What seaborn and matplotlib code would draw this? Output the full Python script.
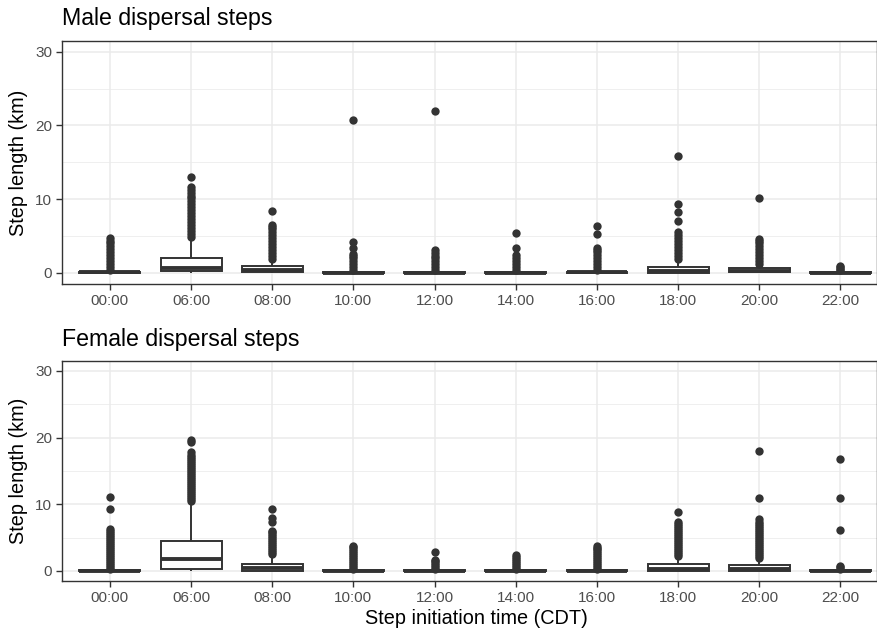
import matplotlib
matplotlib.use("Agg")
import matplotlib.pyplot as plt
import seaborn as sns
import pandas as pd

# ---------------- data ----------------
times = ["00:00", "06:00", "08:00", "10:00", "12:00",
         "14:00", "16:00", "18:00", "20:00", "22:00"]

# Male box statistics (km)
male_whislo = [0.0, 0.0, 0.0, 0.0, 0.0, 0.0, 0.0, 0.0, 0.0, 0.0]
male_q1 = [0.02, 0.25, 0.08, 0.01, 0.01, 0.01, 0.02, 0.05, 0.08, 0.01]
male_med = [0.06, 0.72, 0.40, 0.04, 0.04, 0.04, 0.07, 0.22, 0.28, 0.04]
male_q3 = [0.15, 2.07, 0.95, 0.12, 0.12, 0.10, 0.16, 0.85, 0.63, 0.10]
male_whishi = [0.35, 4.70, 1.75, 0.30, 0.30, 0.25, 0.38, 1.70, 1.10, 0.25]

# Male outliers (km)
male_outliers = [
    [0.4, 0.8, 1.2, 1.6, 2.0, 2.4, 2.8, 3.2, 3.6, 4.0, 4.4, 4.7],
    [4.9, 5.3, 5.7, 6.1, 6.5, 6.9, 7.3, 7.7, 8.1, 8.5, 8.9, 9.3, 9.7,
     10.1, 10.5, 10.9, 11.3, 11.6, 13.0],
    [1.9, 2.3, 2.7, 3.1, 3.5, 3.9, 4.3, 4.7, 5.1, 5.5, 5.9, 6.2, 6.5, 8.4],
    [0.4, 0.8, 1.2, 1.6, 2.0, 2.3, 2.6, 3.4, 4.15, 20.7],
    [0.4, 0.8, 1.2, 1.6, 2.0, 2.3, 2.7, 3.1, 22.0],
    [0.4, 0.8, 1.2, 1.6, 2.0, 2.4, 3.4, 5.4],
    [0.4, 0.8, 1.2, 1.6, 2.0, 2.4, 2.8, 3.1, 3.4, 5.3, 6.4],
    [1.9, 2.3, 2.7, 3.1, 3.5, 3.9, 4.3, 4.7, 5.1, 5.5, 7.1, 8.2, 9.3, 15.8],
    [1.2, 1.6, 2.0, 2.4, 2.8, 3.2, 3.6, 4.0, 4.3, 4.6, 10.2],
    [0.35, 0.6, 0.85, 1.0],
]

# Female box statistics (km)
female_whislo = [0.0, 0.0, 0.0, 0.0, 0.0, 0.0, 0.0, 0.0, 0.0, 0.0]
female_q1 = [0.01, 0.30, 0.05, 0.01, 0.01, 0.01, 0.02, 0.04, 0.05, 0.01]
female_med = [0.04, 1.75, 0.40, 0.04, 0.03, 0.03, 0.06, 0.30, 0.30, 0.03]
female_q3 = [0.12, 4.50, 1.10, 0.14, 0.08, 0.08, 0.15, 1.00, 0.90, 0.08]
female_whishi = [0.28, 10.2, 2.20, 0.33, 0.20, 0.20, 0.36, 2.00, 1.80, 0.20]

# Female outliers (km)
female_outliers = [
    [0.3, 0.6, 0.9, 1.2, 1.5, 1.8, 2.1, 2.4, 2.7, 3.0, 3.3, 3.6, 3.9,
     4.2, 4.5, 4.8, 5.1, 5.4, 5.7, 6.0, 6.3, 9.3, 11.1],
    [10.5, 10.8, 11.1, 11.4, 11.7, 12.0, 12.3, 12.6, 12.9, 13.2, 13.5,
     13.8, 14.1, 14.4, 14.7, 15.0, 15.3, 15.6, 15.9, 16.2, 16.5, 16.8,
     17.1, 17.4, 17.8, 19.3, 19.6],
    [2.5, 2.8, 3.1, 3.4, 3.7, 4.0, 4.3, 4.6, 4.9, 5.2, 5.5, 5.8, 6.0,
     7.3, 7.9, 9.3],
    [0.3, 0.6, 0.9, 1.2, 1.5, 1.8, 2.1, 2.4, 2.7, 3.0, 3.3, 3.6, 3.8],
    [0.3, 0.6, 0.9, 1.2, 1.5, 1.7, 2.9],
    [0.3, 0.6, 0.9, 1.2, 1.5, 1.8, 2.1, 2.4],
    [0.3, 0.6, 0.9, 1.2, 1.5, 1.8, 2.1, 2.4, 2.7, 3.0, 3.3, 3.5, 3.7],
    [2.3, 2.6, 2.9, 3.2, 3.5, 3.8, 4.1, 4.4, 4.7, 5.0, 5.3, 5.6, 5.9,
     6.2, 6.5, 6.8, 7.1, 7.4, 8.9],
    [2.0, 2.3, 2.6, 2.9, 3.2, 3.5, 3.8, 4.1, 4.4, 4.7, 5.0, 5.3, 5.6,
     5.9, 6.2, 6.5, 6.8, 7.1, 7.4, 7.8, 11.0, 18.0],
    [0.3, 0.55, 0.8, 6.2, 11.0, 16.8],
]

panel_titles = ["Male dispersal steps", "Female dispersal steps"]
y_label = "Step length (km)"
x_label = "Step initiation time (CDT)"


def box_frame(whislo, q1, med, q3, whishi):
    rows = []
    for i, t in enumerate(times):
        for v in (whislo[i], q1[i], med[i], q3[i], whishi[i]):
            rows.append({"time": t, "value": v})
    return pd.DataFrame(rows)


def outlier_frame(outliers):
    rows = []
    for t, vals in zip(times, outliers):
        for v in vals:
            rows.append({"time": t, "value": v})
    return pd.DataFrame(rows)


# ---------------- style ----------------
sns.set_theme(style="white")
plt.rcParams["font.family"] = ["Liberation Sans", "DejaVu Sans"]

DARK = "#333333"
GRID = "#EBEBEB"

fig = plt.figure(figsize=(8.78, 6.31), dpi=100)
W, H = 878.0, 631.0
ax_top = fig.add_axes([62 / W, 1 - 284 / H, (877 - 62) / W, (284 - 40.7) / H])
ax_bot = fig.add_axes([62 / W, 1 - 581 / H, (877 - 62) / W, (581 - 361) / H])

panels = [
    (ax_top, box_frame(male_whislo, male_q1, male_med, male_q3, male_whishi),
     outlier_frame(male_outliers), panel_titles[0], False),
    (ax_bot, box_frame(female_whislo, female_q1, female_med, female_q3, female_whishi),
     outlier_frame(female_outliers), panel_titles[1], True),
]

for ax, bdf, odf, title, show_xlabel in panels:
    sns.boxplot(data=bdf, x="time", y="value", order=times, ax=ax,
                whis=(0, 100), width=0.75, color="white", saturation=1,
                linecolor=DARK, linewidth=1.4, showfliers=False,
                medianprops={"linewidth": 2.8},
                capprops={"visible": False})
    sns.stripplot(data=odf, x="time", y="value", order=times, ax=ax,
                  jitter=False, color=DARK, size=6.0, linewidth=0, zorder=4)

    ax.set_xlim(-0.59, 9.45)
    ax.set_ylim(-1.5, 31.5)
    ax.set_yticks([0, 10, 20, 30])
    ax.set_yticks([5, 15, 25], minor=True)
    ax.set_axisbelow(True)
    ax.grid(True, which="major", color=GRID, linewidth=1.1)
    ax.grid(True, which="minor", axis="y", color=GRID, linewidth=0.55)
    ax.xaxis.grid(True, which="major", color=GRID, linewidth=1.1)
    for s in ax.spines.values():
        s.set_visible(True)
        s.set_color(DARK)
        s.set_linewidth(1.0)
    ax.tick_params(axis="both", which="major", length=4, width=1.0,
                   color=DARK, labelcolor="#4D4D4D", labelsize=11, pad=3,
                   bottom=True, left=True)
    ax.tick_params(axis="both", which="minor", length=0)
    ax.set_title(title, loc="left", fontsize=16.7, pad=11, color="black")
    ax.set_ylabel(y_label, fontsize=14.3, labelpad=5, color="black")
    if show_xlabel:
        ax.set_xlabel(x_label, fontsize=14.3, labelpad=3, color="black")
        ax.xaxis.label.set_x((476 - 62) / (877 - 62))
    else:
        ax.set_xlabel("")

fig.savefig("out.png", dpi=100, facecolor="white")
